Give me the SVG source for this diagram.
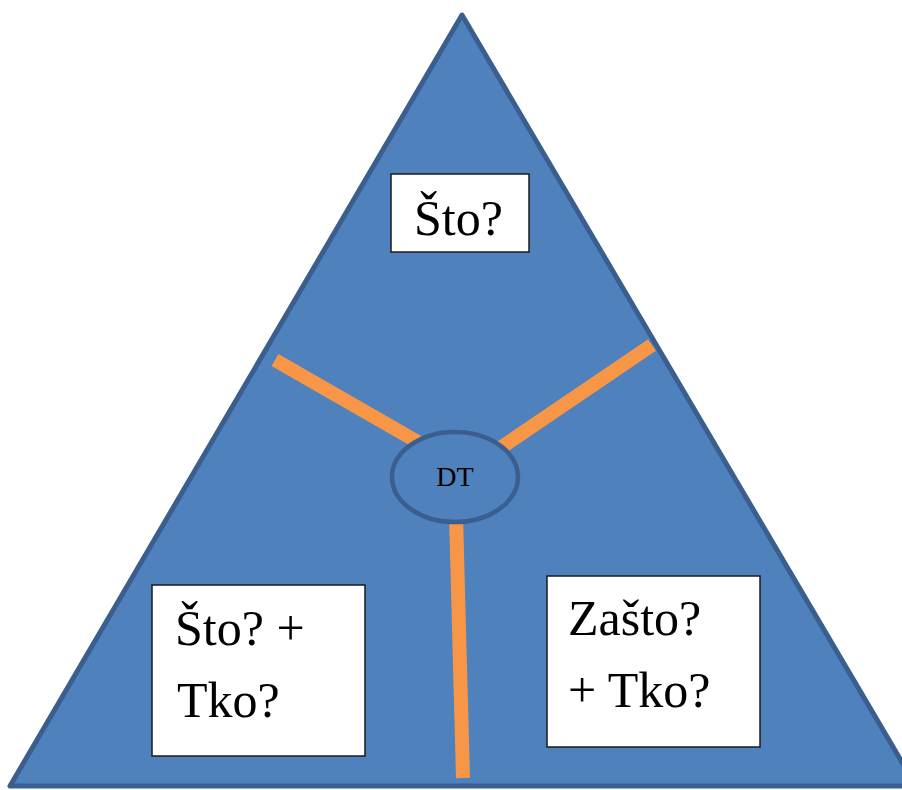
<svg xmlns="http://www.w3.org/2000/svg" width="902" height="790" viewBox="0 0 902 790">
<style>
.box{fill:#ffffff;stroke:#1a1a1a;stroke-width:1.5}
.lbl{font-family:"Liberation Serif","Times New Roman",serif;font-size:50px;fill:#000}
.spoke{stroke:#f79646;stroke-width:14;stroke-linecap:butt;fill:none}
</style>
<rect width="902" height="790" fill="#ffffff"/>
<g id="triangle">
<polygon points="462,15 10,786 916,786" fill="#4f81bd" stroke="#3a5f8f" stroke-width="5" stroke-linejoin="round"/>
</g>
<g id="connectors">
<line class="spoke" x1="275" y1="360" x2="430" y2="449"/>
<line class="spoke" x1="652" y1="345" x2="490" y2="455"/>
<line class="spoke" x1="456" y1="515" x2="463" y2="778"/>
</g>
<g id="dt">
<ellipse cx="455" cy="477" rx="63" ry="45" fill="#4f81bd" stroke="#3a5f8f" stroke-width="4.5"/>
<text x="455" y="486" text-anchor="middle" font-family="Liberation Serif, serif" font-size="28" fill="#000">DT</text>
</g>
<g id="sto">
<rect class="box" x="391" y="174" width="138" height="78"/>
<text class="lbl" x="414" y="235">Što?</text>
</g>
<g id="sto-tko">
<rect class="box" x="152" y="585" width="213" height="171"/>
<text class="lbl" x="175" y="645">Što? +</text>
<text class="lbl" x="177" y="717">Tko?</text>
</g>
<g id="zasto-tko">
<rect class="box" x="547" y="576" width="213" height="171"/>
<text class="lbl" x="568" y="635">Zašto?</text>
<text class="lbl" x="568" y="707">+ Tko?</text>
</g>
</svg>
